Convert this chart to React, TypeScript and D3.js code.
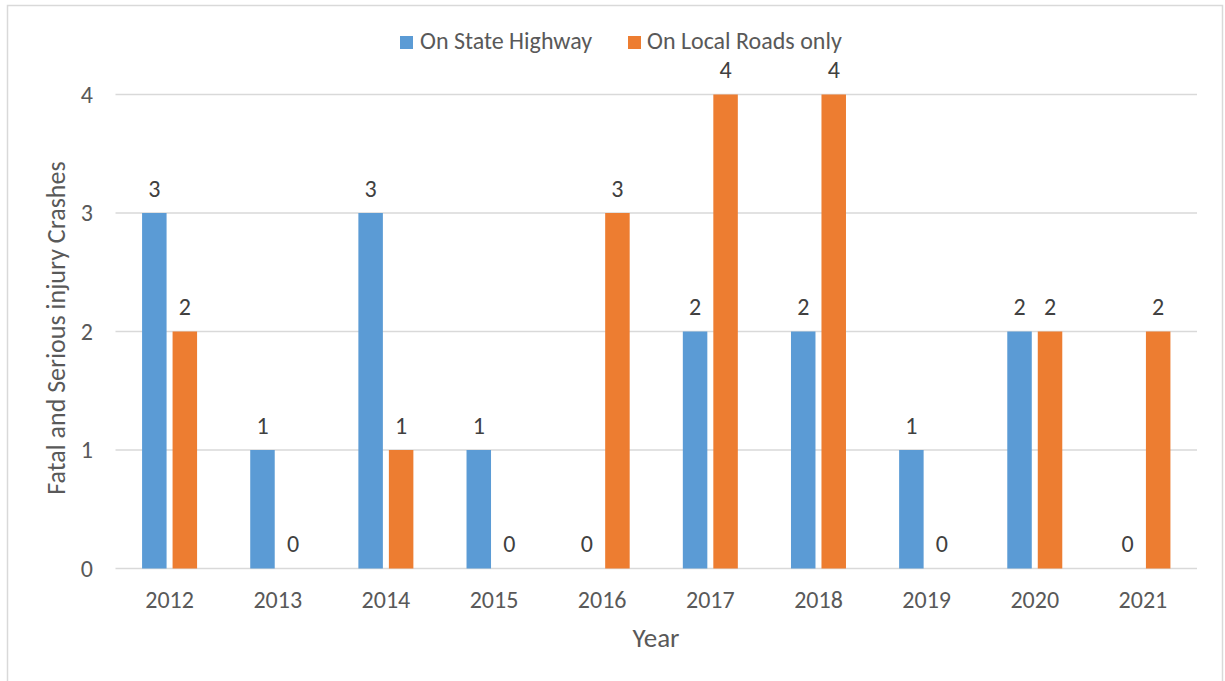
import React from "react";
import * as d3 from "d3";

const years = ["2012", "2013", "2014", "2015", "2016", "2017", "2018", "2019", "2020", "2021"];
const stateHighway = [3, 1, 3, 1, 0, 2, 2, 1, 2, 0];
const localRoads = [2, 0, 1, 0, 3, 4, 4, 0, 2, 2];
const seriesNames = ["On State Highway", "On Local Roads only"];
const colors = ["#5b9bd5", "#ed7d31"];
const yTicks = [0, 1, 2, 3, 4];

const W = 1225, H = 681;
const left = 115.5, right = 1197, top = 94.5, bottom = 568.5;
const font = "Carlito, Calibri, 'Open Sans', sans-serif";
const textColor = "#595959";

export default function App() {
  const x = d3.scaleBand().domain(years).range([left, right]).paddingInner(0).paddingOuter(0);
  const y = d3.scaleLinear().domain([0, 4]).range([bottom, top]);
  const barW = 24.5;
  const gap = 6;
  const series = [stateHighway, localRoads];
  return (
    <svg width={W} height={H} style={{ position: "absolute", left: 0, top: 0 }} fontFamily={font}>
      <rect x={7.5} y={5.5} width={1215} height={690} fill="white" stroke="#d9d9d9" strokeWidth={1.5} />
      {yTicks.map((t) => (
        <g key={t}>
          <line x1={left} x2={right} y1={y(t)} y2={y(t)} stroke="#d9d9d9" strokeWidth={1.3} />
          <text x={93} y={y(t)} dy="0.35em" textAnchor="end" fontSize={24} fill={textColor}>{t}</text>
        </g>
      ))}
      {years.map((yr, i) => {
        const cx = (x(yr) as number) + x.bandwidth() / 2;
        return (
          <g key={yr}>
            {series.map((s, j) => {
              const bx = j === 0 ? cx - gap / 2 - barW : cx + gap / 2;
              const v = s[i];
              return (
                <g key={j}>
                  {v > 0 && <rect x={bx} y={y(v)} width={barW} height={y(0) - y(v)} fill={colors[j]} />}
                  <text x={bx + barW / 2} y={y(v) - 16.5} textAnchor="middle" fontSize={24} fill="#404040">{v}</text>
                </g>
              );
            })}
            <text x={cx} y={600} dy="0.35em" textAnchor="middle" fontSize={24} fill={textColor}>{yr}</text>
          </g>
        );
      })}
      <text x={656} y={638} dy="0.35em" textAnchor="middle" fontSize={27} fill={textColor}>Year</text>
      <text transform={`translate(65,328) rotate(-90)`} textAnchor="middle" fontSize={26} fill={textColor}>Fatal and Serious injury Crashes</text>
      <g>
        <rect x={400} y={36} width={13} height={13} fill={colors[0]} />
        <text x={420} y={49} fontSize={24} fill={textColor}>{seriesNames[0]}</text>
        <rect x={628} y={36} width={13} height={13} fill={colors[1]} />
        <text x={647} y={49} fontSize={24} fill={textColor}>{seriesNames[1]}</text>
      </g>
    </svg>
  );
}
